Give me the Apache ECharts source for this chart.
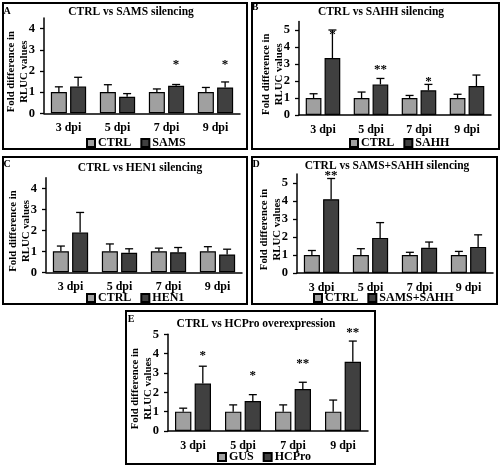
<!DOCTYPE html>
<html><head><meta charset="utf-8">
<script src="https://cdn.jsdelivr.net/npm/echarts@6/dist/echarts.min.js"></script>
<style>html,body{margin:0;padding:0;background:#fff}#c{width:502px;height:466px}</style>
</head><body><div id="c"></div>
<script>
// ---------- data ----------
const categories = ['3 dpi', '5 dpi', '7 dpi', '9 dpi'];
const panelLetters = ['A', 'B', 'C', 'D', 'E'];
const panelTitles = ['CTRL vs SAMS silencing', 'CTRL vs SAHH silencing', 'CTRL vs HEN1 silencing', 'CTRL vs SAMS+SAHH silencing', 'CTRL vs HCPro overexpression'];
const controlNames = ['CTRL', 'CTRL', 'CTRL', 'CTRL', 'GUS'];
const treatNames = ['SAMS', 'SAHH', 'HEN1', 'SAMS+SAHH', 'HCPro'];
const yMaxes = [4.5, 5.5, 4.5, 5.5, 5];
const yTickValuesA = [0, 1, 2, 3, 4];
const yTickValuesB = [0, 1, 2, 3, 4, 5];

// A
const ctrlA = [1, 1, 1, 1];
const ctrlTopA = [1.25, 1.35, 1.15, 1.22];
const treatA = [1.27, 0.78, 1.3, 1.22];
const treatTopA = [1.7, 0.93, 1.36, 1.48];
const starsA = ['', '', '*', '*'];
const starYA = [0, 0, 2.28, 2.28];
// B
const ctrlB = [1, 1, 1, 1];
const ctrlTopB = [1.25, 1.35, 1.15, 1.22];
const treatB = [3.35, 1.8, 1.45, 1.7];
const treatTopB = [5.0, 2.15, 1.8, 2.35];
const starsB = ['*', '**', '*', ''];
const starYB = [4.7, 2.65, 1.96, 0];
// C
const ctrlC = [1, 1, 1, 1];
const ctrlTopC = [1.25, 1.35, 1.15, 1.22];
const treatC = [1.9, 0.93, 0.95, 0.85];
const treatTopC = [2.85, 1.12, 1.18, 1.1];
const starsC = ['', '', '', ''];
const starYC = [0, 0, 0, 0];
// D
const ctrlD = [1, 1, 1, 1];
const ctrlTopD = [1.25, 1.35, 1.15, 1.2];
const treatD = [4.1, 1.95, 1.4, 1.45];
const treatTopD = [5.25, 2.8, 1.72, 2.12];
const starsD = ['**', '', '', ''];
const starYD = [5.4, 0, 0, 0];
// E
const ctrlE = [1, 1, 1, 1];
const ctrlTopE = [1.18, 1.35, 1.35, 1.6];
const treatE = [2.45, 1.55, 2.17, 3.58];
const treatTopE = [3.35, 1.88, 2.52, 4.65];
const starsE = ['*', '*', '**', '**'];
const starYE = [3.9, 2.85, 3.5, 5.1];

const panels = [
  {ctrl: ctrlA, ctrlTop: ctrlTopA, treat: treatA, treatTop: treatTopA, stars: starsA, starY: starYA},
  {ctrl: ctrlB, ctrlTop: ctrlTopB, treat: treatB, treatTop: treatTopB, stars: starsB, starY: starYB},
  {ctrl: ctrlC, ctrlTop: ctrlTopC, treat: treatC, treatTop: treatTopC, stars: starsC, starY: starYC},
  {ctrl: ctrlD, ctrlTop: ctrlTopD, treat: treatD, treatTop: treatTopD, stars: starsD, starY: starYD},
  {ctrl: ctrlE, ctrlTop: ctrlTopE, treat: treatE, treatTop: treatTopE, stars: starsE, starY: starYE}
];

// ---------- layout / style ----------
const FONT = '"Liberation Serif", "Times New Roman", serif';
const CTRL_COLOR = '#a0a0a0';
const TREAT_COLOR = '#404040';
const BAR_GAP = 0.2, CAT_GAP = 0.28;
const grids = [
  {left: 44, top: 18, width: 196, height: 95.3},
  {left: 299, top: 21.5, width: 192, height: 93.5},
  {left: 46, top: 177.8, width: 196, height: 94.5},
  {left: 297, top: 174, width: 196, height: 99},
  {left: 168, top: 334.3, width: 200, height: 96.7}
];
const boxes = [
  [3, 3, 244, 146], [252, 3, 247, 146], [3, 157, 244, 147], [252, 157, 245, 147], [126, 311, 249, 153]
];
const titlePos = [[131, 12], [381, 12], [140, 168], [387, 166], [256, 324]];
const letterPos = [[7, 11], [255, 7], [7, 164], [256, 164], [131, 319]];
const legendPos = [[86, 137], [349, 137], [86, 292], [313, 292], [217, 451]];

function barOffset(api, sign) {
  const band = api.size([1, 0])[0];
  const w = band * (1 - CAT_GAP) / (2 + BAR_GAP);
  return sign * w * (1 + BAR_GAP) / 2;
}
function errRender(sign) {
  return function (params, api) {
    const p0 = api.coord([api.value(0), api.value(1)]);
    const p1 = api.coord([api.value(0), api.value(2)]);
    const x = p0[0] + barOffset(api, sign);
    const cap = 4;
    const st = {stroke: '#000', lineWidth: 1.3};
    return {type: 'group', children: [
      {type: 'line', shape: {x1: x, y1: p0[1], x2: x, y2: p1[1]}, style: st},
      {type: 'line', shape: {x1: x - cap, y1: p1[1], x2: x + cap, y2: p1[1]}, style: st}
    ]};
  };
}
function starRender(params, api) {
  const p = api.coord([api.value(0), api.value(1)]);
  const x = p[0] + barOffset(api, 1);
  return {type: 'text', x: x, y: p[1], style: {text: api.value(2) === 1 ? '*' : '**', font: 'bold 13px ' + FONT, fill: '#000', textAlign: 'center', textVerticalAlign: 'middle'}};
}

const option = {
  animation: false,
  backgroundColor: '#fff',
  textStyle: {fontFamily: FONT},
  grid: [], xAxis: [], yAxis: [], series: [], legend: [], graphic: []
};

panels.forEach((p, i) => {
  option.grid.push(Object.assign({containLabel: false}, grids[i]));
  option.xAxis.push({
    type: 'category', gridIndex: i, data: categories,
    axisLine: {lineStyle: {color: '#000', width: 1.5}},
    axisTick: {show: false},
    axisLabel: {color: '#000', fontWeight: 'bold', fontSize: 12, fontFamily: FONT, margin: 9}
  });
  const ticks = yMaxes[i] >= 5 ? yTickValuesB : yTickValuesA;
  option.yAxis.push({
    type: 'value', gridIndex: i, min: 0, max: yMaxes[i], interval: 1,
    splitLine: {show: false},
    axisLine: {show: true, lineStyle: {color: '#000', width: 1.5}},
    axisTick: {show: true, length: 4, lineStyle: {color: '#000', width: 1.3}, customValues: ticks},
    axisLabel: {color: '#000', fontWeight: 'bold', fontSize: 12.5, fontFamily: FONT, margin: 9, customValues: ticks},
    name: 'Fold difference in\nRLUC values', nameLocation: 'middle', nameRotate: 90, nameGap: 13,
    nameMoveOverlap: false,
    nameTextStyle: {color: '#000', fontWeight: 'bold', fontSize: 10.8, fontFamily: FONT, lineHeight: 13, padding: [0, 12, 0, 0]}
  });
  const barCommon = {type: 'bar', xAxisIndex: i, yAxisIndex: i, barGap: (BAR_GAP * 100) + '%', barCategoryGap: (CAT_GAP * 100) + '%'};
  option.series.push(Object.assign({}, barCommon, {name: controlNames[i], data: p.ctrl, itemStyle: {color: CTRL_COLOR, borderColor: '#000', borderWidth: 1.2}}));
  option.series.push(Object.assign({}, barCommon, {name: treatNames[i], data: p.treat, itemStyle: {color: TREAT_COLOR, borderColor: '#000', borderWidth: 1.2}}));
  option.series.push({type: 'custom', xAxisIndex: i, yAxisIndex: i, renderItem: errRender(-1), z: 5,
    data: p.ctrl.map((v, k) => [k, v, p.ctrlTop[k]])});
  option.series.push({type: 'custom', xAxisIndex: i, yAxisIndex: i, renderItem: errRender(1), z: 5,
    data: p.treat.map((v, k) => [k, v, p.treatTop[k]])});
  const starData = [];
  p.stars.forEach((s, k) => { if (s) starData.push([k, p.starY[k], s.length]); });
  option.series.push({type: 'custom', xAxisIndex: i, yAxisIndex: i, renderItem: starRender, z: 6, data: starData});
  option.legend.push({
    data: [controlNames[i], treatNames[i]], left: legendPos[i][0], top: legendPos[i][1],
    icon: 'rect', itemWidth: 8, itemHeight: 8, itemGap: 9, padding: 0,
    textStyle: {color: '#000', fontWeight: 'bold', fontSize: 12, fontFamily: FONT, padding: [0, 0, 0, -2]},
    selectedMode: false
  });
  option.graphic.push({type: 'rect', shape: {x: boxes[i][0], y: boxes[i][1], width: boxes[i][2], height: boxes[i][3]},
    style: {fill: 'none', stroke: '#000', lineWidth: 2}, z: 10, silent: true});
  option.graphic.push({type: 'text', x: titlePos[i][0], y: titlePos[i][1],
    style: {text: panelTitles[i], font: 'bold 11.5px ' + FONT, fill: '#000', textAlign: 'center', textVerticalAlign: 'middle'}});
  option.graphic.push({type: 'text', x: letterPos[i][0], y: letterPos[i][1],
    style: {text: panelLetters[i], font: 'bold 10px ' + FONT, fill: '#000', textAlign: 'center', textVerticalAlign: 'middle'}});
});

const chart = echarts.init(document.getElementById('c'), null, {renderer: 'canvas'});
chart.setOption(option);
</script>
</body></html>
